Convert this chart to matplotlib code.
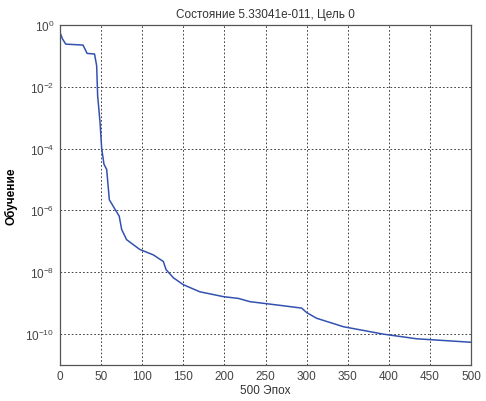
import matplotlib.pyplot as plt
from matplotlib.ticker import FixedLocator, NullLocator

plt.rcParams["font.family"] = ["Liberation Sans", "DejaVu Sans"]
plt.rcParams["mathtext.fontset"] = "custom"
plt.rcParams["mathtext.rm"] = "Liberation Sans"
plt.rcParams["mathtext.it"] = "Liberation Sans:italic"

# training performance
epochs = [0, 3, 7, 28, 33, 42, 44.6, 45.8, 48.7, 50.7, 53.5, 56.8, 60, 67, 72, 75,
          81, 97, 113.5, 125.7, 129, 138, 150, 170, 198.7, 217, 231, 271.7, 294,
          300, 312, 344.7, 393, 434, 500]
perf = [0.575, 0.355, 0.24, 0.224, 0.12, 0.115, 0.048, 5.1e-3, 7.1e-4, 1.0e-4,
        3.1e-5, 2.1e-5, 2.2e-6, 1.07e-6, 6.5e-7, 2.4e-7, 1.12e-7, 5.4e-8, 3.6e-8,
        2.2e-8, 1.2e-8, 6.5e-9, 3.9e-9, 2.3e-9, 1.6e-9, 1.4e-9, 1.1e-9, 8.1e-10,
        6.8e-10, 4.9e-10, 3.2e-10, 1.7e-10, 9.8e-11, 6.9e-11, 5.33e-11]

x_ticks = [0, 50, 100, 150, 200, 250, 300, 350, 400, 450, 500]
y_ticks = [1e0, 1e-2, 1e-4, 1e-6, 1e-8, 1e-10]
y_labels = ["$10^{0}$", "$10^{-2}$", "$10^{-4}$", "$10^{-6}$", "$10^{-8}$", "$10^{-10}$"]

fig = plt.figure(figsize=(4.86, 4.02), dpi=100)
ax = fig.add_axes([60 / 486, (402 - 365.7) / 402, (471 - 60) / 486, (365.7 - 26) / 402])

ax.plot(epochs, perf, color="#3352b0", linewidth=1.1)

ax.set_yscale("log")
ax.set_xlim(0, 500)
ax.set_ylim(1e-11, 1e0)
ax.xaxis.set_major_locator(FixedLocator(x_ticks))
ax.yaxis.set_major_locator(FixedLocator(y_ticks))
ax.yaxis.set_minor_locator(NullLocator())
ax.set_yticklabels(y_labels)
ax.tick_params(axis="both", direction="in", length=0, labelsize=8.5,
               labelcolor="#444444", pad=4)

ax.grid(True, color="#222222", linestyle=(0, (2, 2.5)), linewidth=0.6)
for side in ax.spines.values():
    side.set_color("#555555")
    side.set_linewidth(0.9)

ax.set_title("Состояние 5.33041e-011, Цель 0", fontsize=8.5, color="#333333", pad=6)
ax.set_xlabel("500 Эпох", fontsize=8.5, color="#333333", labelpad=1)
ax.set_ylabel("Обучение", fontsize=8.5, fontweight="bold", labelpad=6)

fig.savefig("out.png", dpi=100)
